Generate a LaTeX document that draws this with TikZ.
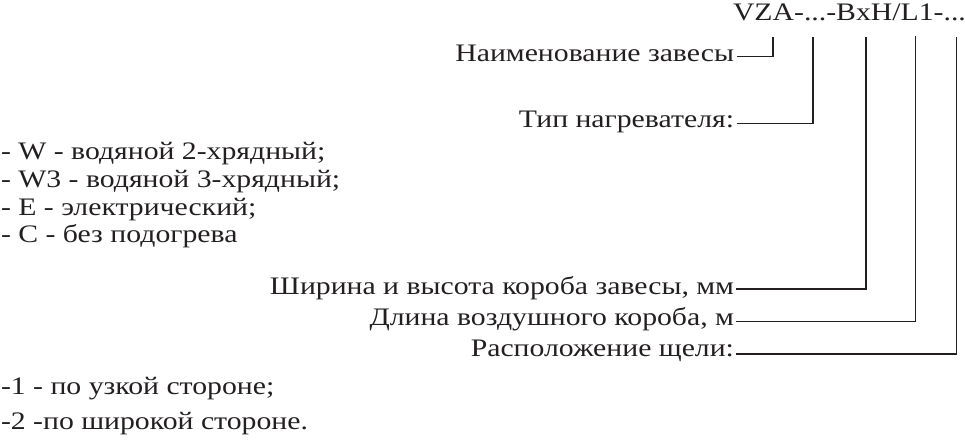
\documentclass[tikz,border=0pt]{standalone}
\usepackage{fontspec}
\setmainfont{Liberation Serif}[FakeStretch=1.18]
\definecolor{ink}{HTML}{231F20}
\begin{document}
\begin{tikzpicture}[x=1bp,y=-1bp,
  lbl/.style={inner sep=0pt,outer sep=0pt,text=ink,font=\fontsize{25.2bp}{29bp}\selectfont},
  conn/.style={draw=ink,line width=1.5bp}]
\useasboundingbox (0,0) rectangle (965,441);
\node[lbl,anchor=base west] (hdr) at (733,20.7) {VZA-...-BxH/L1-...};
\node[lbl,anchor=base east] (n1) at (734,62) {Наименование завесы};
\node[lbl,anchor=base east] (n2) at (734,128) {Тип нагревателя:};
\node[lbl,anchor=base west] (l1) at (1,160) {- W - водяной 2-хрядный;};
\node[lbl,anchor=base west] (l2) at (1,188) {- W3 - водяной 3-хрядный;};
\node[lbl,anchor=base west] (l3) at (1,215.5) {- Е - электрический;};
\node[lbl,anchor=base west] (l4) at (1,243) {- С - без подогрева};
\node[lbl,anchor=base east] (n3) at (734,295) {Ширина и высота короба завесы, мм};
\node[lbl,anchor=base east] (n4) at (734,325.5) {Длина воздушного короба, м};
\node[lbl,anchor=base east] (n5) at (734,356.5) {Расположение щели:};
\node[lbl,anchor=base west] (m1) at (1,394) {-1 - по узкой стороне;};
\node[lbl,anchor=base west] (m2) at (1,429) {-2 -по широкой стороне.};
\coordinate (t1) at (773,37.5);
\coordinate (t2) at (813,37);
\coordinate (t3) at (866,37.5);
\coordinate (t4) at (915.5,36.5);
\coordinate (t5) at (956.5,37.5);
\draw[conn] ([xshift=3bp,yshift=5.3bp]n1.base east) -| (t1);
\draw[conn] ([xshift=3bp,yshift=4.7bp]n2.base east) -| (t2);
\draw[conn] ([xshift=2bp,yshift=6bp]n3.base east) -| (t3);
\draw[conn] ([xshift=2bp,yshift=4bp]n4.base east) -| (t4);
\draw[conn] ([xshift=2bp,yshift=2.5bp]n5.base east) -| (t5);
\end{tikzpicture}
\end{document}
